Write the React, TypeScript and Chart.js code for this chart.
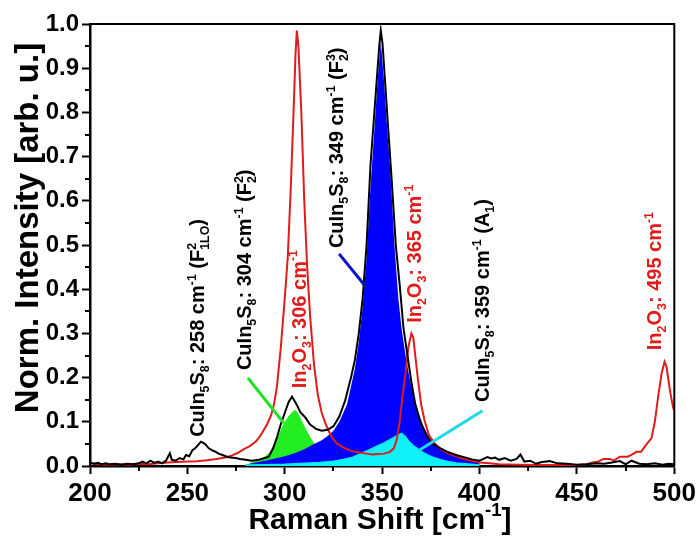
import { useEffect, useRef } from 'react';
import { Chart, registerables } from 'chart.js';

Chart.register(...registerables);

const FONT = '"Liberation Sans", Arial, Helvetica, sans-serif';

// Measured CuIn5S8 spectrum (black)
const spectrumShift = [200, 202, 204, 206, 208, 210, 213, 216, 219, 222, 225, 227, 229, 231, 233, 235, 237, 239, 241, 242, 244, 246, 248, 249.3, 251, 252.6, 254, 256, 257, 259, 261, 263, 264.6, 266, 268, 271, 274.8, 277, 280, 283, 286.7, 289, 291.8, 294, 296, 298, 300, 302, 303.7, 306, 308, 310.5, 313, 316, 319, 322, 325, 328, 331, 334, 336, 338, 340, 342, 344, 346, 347.5, 348.5, 349.3, 350.2, 351.5, 353, 355, 357, 359, 361, 363, 365, 367, 369, 371, 373, 376, 380, 384, 388, 392, 396, 400, 402, 404, 406, 408, 410, 413, 416, 419, 421, 423, 426, 429, 432, 436, 440, 445, 450, 455, 460, 464, 468, 472, 475, 478, 482, 486, 490, 494, 497, 500];
const spectrumIntensity = [0.008, 0.005, 0.007, 0.004, 0.006, 0.004, 0.005, 0.003, 0.005, 0.004, 0.006, 0.01, 0.006, 0.012, 0.007, 0.01, 0.006, 0.012, 0.029, 0.014, 0.012, 0.018, 0.015, 0.025, 0.022, 0.036, 0.04, 0.05, 0.055, 0.05, 0.04, 0.035, 0.032, 0.028, 0.025, 0.02, 0.018, 0.016, 0.014, 0.012, 0.014, 0.017, 0.021, 0.04, 0.065, 0.095, 0.12, 0.145, 0.157, 0.14, 0.122, 0.11, 0.094, 0.084, 0.08, 0.082, 0.09, 0.112, 0.148, 0.2, 0.24, 0.3, 0.38, 0.5, 0.68, 0.8, 0.89, 0.95, 0.985, 0.955, 0.87, 0.77, 0.64, 0.5, 0.41, 0.31, 0.25, 0.19, 0.14, 0.11, 0.085, 0.066, 0.05, 0.04, 0.031, 0.025, 0.02, 0.015, 0.012, 0.016, 0.02, 0.017, 0.019, 0.014, 0.018, 0.012, 0.016, 0.026, 0.01, 0.012, 0.005, 0.009, 0.011, 0.006, 0.005, 0.003, 0.004, 0.006, 0.005, 0.008, 0.011, 0.004, 0.012, 0.005, 0.004, 0.006, 0.003, 0.005, 0.004];

// In2O3 reference spectrum (red)
const in2o3Shift = [200, 205, 210, 215, 220, 225, 230, 235, 240, 245, 250, 255, 260, 265, 270, 273, 276, 279, 282, 285, 287, 289, 291, 293, 294.5, 296, 298, 300, 301.5, 303, 304.5, 305.5, 306.2, 307, 308.5, 310, 311.5, 313, 315, 317, 319, 321, 323, 325, 327, 330, 333, 336, 339, 342, 345, 348, 351, 354, 356, 357.5, 359, 360.5, 362, 363.5, 365, 366, 367, 368.4, 370, 371.7, 374, 376.8, 380, 384, 388, 392, 396, 400, 405, 410, 420, 430, 440, 450, 455, 458, 461, 463.6, 467, 469, 472, 476, 478, 480.6, 483, 485, 488.3, 490, 491.7, 493.5, 495, 496, 496.8, 498, 499.3, 500];
const in2o3Intensity = [0.006, 0.004, 0.003, 0.004, 0.003, 0.005, 0.004, 0.006, 0.008, 0.009, 0.01, 0.011, 0.013, 0.016, 0.02, 0.024, 0.03, 0.038, 0.045, 0.055, 0.065, 0.08, 0.095, 0.115, 0.14, 0.18, 0.27, 0.38, 0.47, 0.62, 0.8, 0.93, 0.985, 0.95, 0.8, 0.6, 0.45, 0.34, 0.23, 0.16, 0.12, 0.095, 0.075, 0.06, 0.05, 0.042, 0.036, 0.032, 0.03, 0.028, 0.026, 0.027, 0.028, 0.032, 0.04, 0.06, 0.1, 0.16, 0.21, 0.27, 0.3, 0.29, 0.25, 0.195, 0.14, 0.104, 0.07, 0.052, 0.038, 0.028, 0.022, 0.016, 0.012, 0.008, 0.006, 0.004, 0.003, 0.002, 0.002, 0.002, 0.004, 0.008, 0.01, 0.016, 0.016, 0.012, 0.021, 0.021, 0.025, 0.032, 0.032, 0.045, 0.063, 0.1, 0.157, 0.21, 0.236, 0.225, 0.2, 0.165, 0.134, 0.125];

// Fitted CuIn5S8 component at 304 cm-1 (green)
const fit304Shift = [281, 284, 287, 290, 292, 293.5, 295, 297, 298.6, 300, 302, 304, 305.4, 307, 309, 311, 313, 315, 317, 320, 324, 328, 333, 340];
const fit304Intensity = [0.004, 0.01, 0.016, 0.022, 0.03, 0.036, 0.05, 0.072, 0.089, 0.1, 0.113, 0.123, 0.127, 0.118, 0.1, 0.082, 0.066, 0.052, 0.042, 0.03, 0.018, 0.01, 0.005, 0.002];

// Fitted CuIn5S8 component at 349 cm-1 (blue)
const fit349Shift = [280, 285, 290, 295, 300, 305, 310, 315, 319, 322, 325, 328, 330, 332, 334, 336, 338, 340, 342, 344, 346, 347.8, 349.3, 350.8, 352.5, 354.3, 356.3, 358.3, 360, 362, 364, 366, 368, 370, 373, 375, 378, 381, 384, 388, 392, 397, 400];
const fit349Intensity = [0.003, 0.008, 0.012, 0.017, 0.022, 0.029, 0.038, 0.05, 0.058, 0.068, 0.08, 0.1, 0.12, 0.14, 0.18, 0.22, 0.28, 0.36, 0.47, 0.63, 0.76, 0.88, 0.96, 0.88, 0.77, 0.66, 0.5, 0.38, 0.31, 0.25, 0.2, 0.16, 0.125, 0.1, 0.075, 0.06, 0.045, 0.035, 0.029, 0.022, 0.017, 0.012, 0.008];

// Fitted CuIn5S8 component at 359 cm-1 (cyan)
const fit359Shift = [280, 290, 300, 310, 318, 325, 330, 335, 339.4, 343, 347, 351, 355, 358, 360, 362, 364, 366, 369.2, 372, 376, 380, 383.7, 388, 393, 400];
const fit359Intensity = [0.002, 0.003, 0.004, 0.006, 0.008, 0.011, 0.015, 0.02, 0.029, 0.036, 0.044, 0.052, 0.062, 0.07, 0.074, 0.066, 0.054, 0.046, 0.036, 0.028, 0.02, 0.014, 0.01, 0.007, 0.005, 0.002];

// Axis minor tick values
const xMinorTicks = [225, 275, 325, 375, 425, 475];
const yMinorTicks = [0.05, 0.15, 0.25, 0.35, 0.45, 0.55, 0.65, 0.75, 0.85, 0.95];

// Rich text segments
type Seg = { t: string; k?: 'sub' | 'sup'; stack?: boolean };

const xTitle: Seg[] = [{ t: 'Raman Shift [cm' }, { t: '-1', k: 'sup' }, { t: ']' }];
const yTitle: Seg[] = [{ t: 'Norm. Intensity [arb. u.]' }];

// Peak annotations (rotated text), anchored at the start of the text
const labelTexts: Seg[][] = [
  [{ t: 'CuIn' }, { t: '5', k: 'sub' }, { t: 'S' }, { t: '8', k: 'sub' }, { t: ': 258 cm' }, { t: '-1', k: 'sup' }, { t: ' (F' }, { t: '1', k: 'sub' }, { t: '2', k: 'sup', stack: true }, { t: 'LO', k: 'sub' }, { t: ')' }],
  [{ t: 'CuIn' }, { t: '5', k: 'sub' }, { t: 'S' }, { t: '8', k: 'sub' }, { t: ': 304 cm' }, { t: '-1', k: 'sup' }, { t: ' (F' }, { t: '2', k: 'sub' }, { t: '2', k: 'sup', stack: true }, { t: ')' }],
  [{ t: 'In' }, { t: '2', k: 'sub' }, { t: 'O' }, { t: '3', k: 'sub' }, { t: ': 306 cm' }, { t: '-1', k: 'sup' }],
  [{ t: 'CuIn' }, { t: '5', k: 'sub' }, { t: 'S' }, { t: '8', k: 'sub' }, { t: ': 349 cm' }, { t: '-1', k: 'sup' }, { t: ' (F' }, { t: '2', k: 'sub' }, { t: '3', k: 'sup', stack: true }, { t: ')' }],
  [{ t: 'In' }, { t: '2', k: 'sub' }, { t: 'O' }, { t: '3', k: 'sub' }, { t: ': 365 cm' }, { t: '-1', k: 'sup' }],
  [{ t: 'CuIn' }, { t: '5', k: 'sub' }, { t: 'S' }, { t: '8', k: 'sub' }, { t: ': 359 cm' }, { t: '-1', k: 'sup' }, { t: ' (A' }, { t: '1', k: 'sub' }, { t: ')' }],
  [{ t: 'In' }, { t: '2', k: 'sub' }, { t: 'O' }, { t: '3', k: 'sub' }, { t: ': 495 cm' }, { t: '-1', k: 'sup' }],
];
const labelShift = [258.7, 282.7, 310.7, 330.1, 369.9, 405.1, 493.4];
const labelIntensity = [0.066, 0.217, 0.176, 0.493, 0.324, 0.145, 0.262];
const labelColors = ['#000000', '#000000', '#e01b1b', '#000000', '#e01b1b', '#000000', '#e01b1b'];

// Pointer lines from labels to fitted peaks
const pointerFromShift = [281.1, 327.9, 401.5];
const pointerFromIntensity = [0.199, 0.48, 0.125];
const pointerToShift = [299.5, 340.8, 369.2];
const pointerToIntensity = [0.097, 0.41, 0.036];
const pointerColors = ['#22e022', '#1010c8', '#20d8e8'];

function toXY(xs: number[], ys: number[]) {
  return xs.map((x, i) => ({ x, y: ys[i] }));
}

function layoutRich(ctx: CanvasRenderingContext2D, segs: Seg[], size: number, draw: boolean) {
  let cx = 0;
  let prevStart = 0;
  let prevW = 0;
  for (const s of segs) {
    const fs = s.k ? size * 0.62 : size;
    ctx.font = `bold ${fs}px ${FONT}`;
    const w = ctx.measureText(s.t).width;
    const sx = s.stack ? prevStart : cx;
    const dy = s.k === 'sub' ? size * 0.25 : s.k === 'sup' ? -size * 0.42 : 0;
    if (draw) ctx.fillText(s.t, sx, dy);
    if (s.stack) {
      cx = prevStart + Math.max(prevW, w);
    } else {
      prevStart = sx;
      prevW = w;
      cx = sx + w;
    }
  }
  return cx;
}

function drawRich(
  ctx: CanvasRenderingContext2D,
  segs: Seg[],
  x: number,
  y: number,
  size: number,
  color: string,
  rotate: boolean,
  center: boolean
) {
  ctx.save();
  ctx.translate(x, y);
  if (rotate) ctx.rotate(-Math.PI / 2);
  ctx.fillStyle = color;
  ctx.textBaseline = 'alphabetic';
  ctx.textAlign = 'left';
  if (center) {
    const w = layoutRich(ctx, segs, size, false);
    ctx.translate(-w / 2, 0);
  }
  layoutRich(ctx, segs, size, true);
  ctx.restore();
}

const overlayPlugin = {
  id: 'overlay',
  afterDatasetsDraw(chart: any) {
    const { ctx, chartArea: a, scales } = chart;
    const xs = scales.x;
    const ys = scales.y;
    ctx.save();
    // pointer lines
    ctx.lineCap = 'butt';
    for (let i = 0; i < pointerColors.length; i++) {
      ctx.strokeStyle = pointerColors[i];
      ctx.lineWidth = 3;
      ctx.beginPath();
      ctx.moveTo(xs.getPixelForValue(pointerFromShift[i]), ys.getPixelForValue(pointerFromIntensity[i]));
      ctx.lineTo(xs.getPixelForValue(pointerToShift[i]), ys.getPixelForValue(pointerToIntensity[i]));
      ctx.stroke();
    }
    // frame top/right
    ctx.strokeStyle = '#000';
    ctx.lineWidth = 2;
    ctx.beginPath();
    ctx.moveTo(a.left, a.top);
    ctx.lineTo(a.right, a.top);
    ctx.lineTo(a.right, a.bottom);
    ctx.stroke();
    // minor ticks
    ctx.lineWidth = 2;
    ctx.beginPath();
    for (const v of xMinorTicks) {
      const px = Math.round(xs.getPixelForValue(v));
      ctx.moveTo(px, a.bottom);
      ctx.lineTo(px, a.bottom + 5);
    }
    for (const v of yMinorTicks) {
      const py = Math.round(ys.getPixelForValue(v));
      ctx.moveTo(a.left, py);
      ctx.lineTo(a.left - 5, py);
    }
    ctx.stroke();
    ctx.restore();
    // peak labels
    for (let i = 0; i < labelTexts.length; i++) {
      drawRich(ctx, labelTexts[i], xs.getPixelForValue(labelShift[i]), ys.getPixelForValue(labelIntensity[i]), 20, labelColors[i], true, false);
    }
    // axis titles
    drawRich(ctx, xTitle, 380, 529, 30, '#000', false, true);
    drawRich(ctx, yTitle, 38, 228, 33, '#000', true, true);
  },
};

export default function App() {
  const ref = useRef<HTMLCanvasElement | null>(null);
  useEffect(() => {
    if (!ref.current) return;
    const chart = new Chart(ref.current, {
      type: 'line',
      data: {
        datasets: [
          {
            label: 'CuIn5S8',
            data: toXY(spectrumShift, spectrumIntensity),
            borderColor: '#000000',
            borderWidth: 2,
            pointRadius: 0,
            fill: false,
            order: 0,
          },
          {
            label: 'In2O3',
            data: toXY(in2o3Shift, in2o3Intensity),
            borderColor: '#e01b1b',
            borderWidth: 2,
            pointRadius: 0,
            fill: false,
            order: 1,
          },
          {
            label: '359',
            data: toXY(fit359Shift, fit359Intensity),
            borderColor: '#10e8f0',
            backgroundColor: '#10f0f8',
            borderWidth: 1.5,
            pointRadius: 0,
            fill: 'origin',
            order: 2,
          },
          {
            label: '349',
            data: toXY(fit349Shift, fit349Intensity),
            borderColor: '#0000ff',
            backgroundColor: '#0000ff',
            borderWidth: 0,
            pointRadius: 0,
            fill: 'origin',
            order: 3,
          },
          {
            label: '304',
            data: toXY(fit304Shift, fit304Intensity),
            borderColor: '#22ee22',
            backgroundColor: '#22ee22',
            borderWidth: 0,
            pointRadius: 0,
            fill: 'origin',
            order: 4,
          },
        ],
      },
      options: {
        animation: false,
        responsive: true,
        maintainAspectRatio: false,
        layout: { padding: { top: 24, right: 22, left: 0, bottom: 0 } },
        plugins: { legend: { display: false }, tooltip: { enabled: false } },
        scales: {
          x: {
            type: 'linear',
            min: 200,
            max: 500,
            ticks: {
              stepSize: 50,
              color: '#000',
              padding: 4,
              maxRotation: 0,
              font: { size: 26, weight: 'bold', family: FONT },
            },
            grid: { drawOnChartArea: false, drawTicks: true, tickLength: 8, tickWidth: 2, tickColor: '#000' },
            border: { color: '#000', width: 2.5 },
            title: { display: false },
            afterFit: (s: any) => {
              s.height = 73;
            },
          },
          y: {
            type: 'linear',
            min: 0,
            max: 1,
            ticks: {
              stepSize: 0.1,
              color: '#000',
              padding: 3,
              font: { size: 24, weight: 'bold', family: FONT },
              callback: (v: any) => Number(v).toFixed(1),
            },
            grid: { drawOnChartArea: false, drawTicks: true, tickLength: 8, tickWidth: 2, tickColor: '#000' },
            border: { color: '#000', width: 2.5 },
            title: { display: false },
            afterFit: (s: any) => {
              s.width = 90;
            },
          },
        },
      },
      plugins: [overlayPlugin],
    });
    return () => chart.destroy();
  }, []);
  return (
    <div style={{ position: 'absolute', left: 0, top: 0, width: 700, height: 539, background: '#fff' }}>
      <canvas ref={ref} />
    </div>
  );
}
